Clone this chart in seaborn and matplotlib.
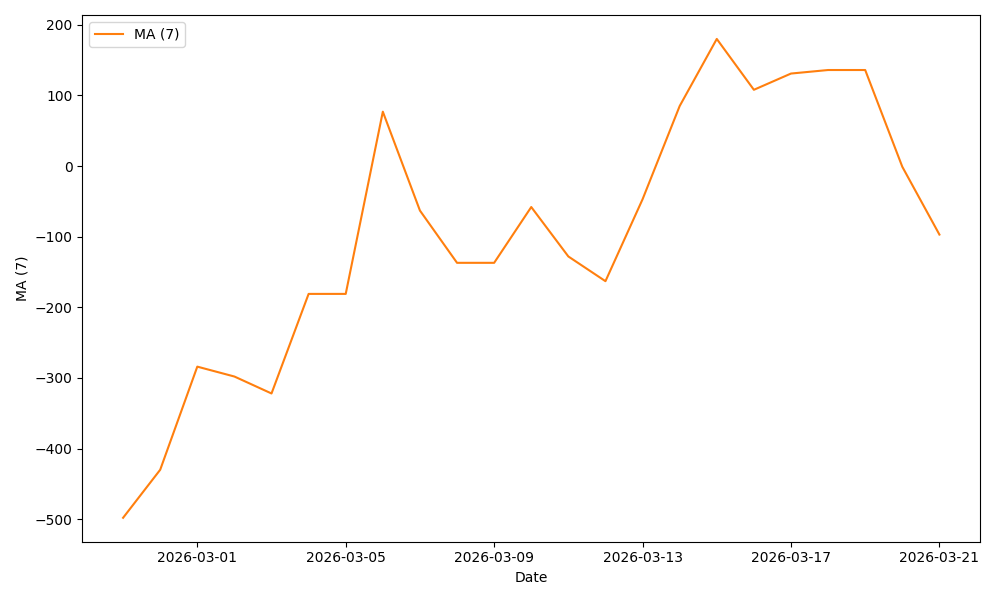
import matplotlib
matplotlib.use("Agg")
import matplotlib.pyplot as plt
import seaborn as sns
import pandas as pd

dates = pd.date_range("2026-02-27", "2026-03-21", freq="D")
ma7 = [-498, -430, -284, -298, -322, -181, -181, 77, -63, -137, -137, -58,
       -128, -163, -47, 85, 180, 108, 131, 136, 136, -1, -97]

df = pd.DataFrame({"Date": dates, "MA (7)": ma7})

fig, ax = plt.subplots(figsize=(10, 6), dpi=100)
sns.lineplot(data=df, x="Date", y="MA (7)", color="#ff7f0e", label="MA (7)", ax=ax)
ax.legend(loc="upper left")
plt.tight_layout()
plt.savefig("out.png")
